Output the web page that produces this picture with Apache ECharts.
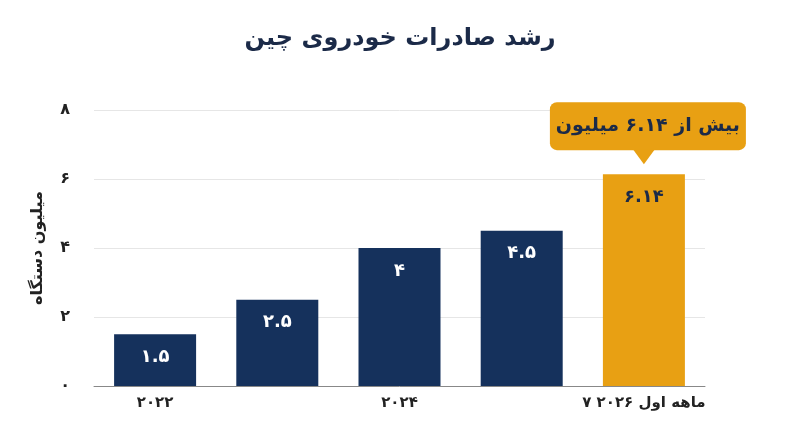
<!DOCTYPE html><html><head><meta charset="utf-8"><script src="https://cdn.jsdelivr.net/npm/echarts@6/dist/echarts.min.js"></script>
<style>body{margin:0}#c{width:800px;height:447px}</style></head><body><div id="c"></div><script>
const categories=['۲۰۲۲','۲۰۲۳','۲۰۲۴','۲۰۲۵','۷ ماهه اول ۲۰۲۶'];
const values=[1.5,2.5,4,4.5,6.14];
const valueLabels=['۱.۵','۲.۵','۴','۴.۵','۶.۱۴'];
const yTicks={0:'۰',2:'۲',4:'۴',6:'۶',8:'۸'};
const calloutText='بیش از ۶.۱۴ میلیون';
const F='DejaVu Sans';
const navy='#15315c',orange='#e8a013';
const ch=echarts.init(document.getElementById('c'));
ch.setOption({
 animation:false,
 title:{text:'رشد صادرات خودروی چین',left:'center',top:22,textStyle:{fontFamily:F,fontSize:24,fontWeight:'bold',color:'#1b2a48'}},
 grid:{left:94,right:95,top:110,bottom:61},
 xAxis:{type:'category',data:categories,axisTick:{show:false},axisLine:{lineStyle:{color:'#888'}},
  axisLabel:{fontFamily:F,fontSize:15,fontWeight:'bold',color:'#222',margin:10}},
 yAxis:{type:'value',min:0,max:8,interval:2,name:'میلیون دستگاه',nameLocation:'middle',nameGap:48,nameRotate:90,
  nameTextStyle:{fontFamily:F,fontSize:16,fontWeight:'bold',color:'#222'},
  splitLine:{lineStyle:{color:'#e6e6e6'}},
  axisLabel:{fontFamily:F,fontSize:16,fontWeight:'bold',color:'#222',margin:24,formatter:v=>yTicks[v]}},
 series:[{type:'bar',barWidth:82,
  data:values.map((v,i)=>({value:v,itemStyle:{color:i===4?orange:navy},
   label:{color:i===4?'#1b2a48':'#fff'}})),
  label:{show:true,position:'insideTop',distance:14,fontFamily:F,fontSize:18,fontWeight:'bold',formatter:p=>valueLabels[p.dataIndex]}}]
});
const p=ch.convertToPixel({seriesIndex:0},[4,values[4]]);
const w=196,h=48,tipY=p[1]-10,boxB=tipY-14;
ch.setOption({graphic:[
 {type:'rect',shape:{x:p[0]-w/2+4,y:boxB-h,width:w,height:h,r:7},style:{fill:orange}},
 {type:'polygon',shape:{points:[[p[0]-11,boxB-1],[p[0]+11,boxB-1],[p[0],tipY]]},style:{fill:orange}},
 {type:'text',x:p[0]+4,y:boxB-h/2,style:{text:calloutText,fontFamily:F,fontSize:19,fontWeight:'bold',fill:'#1b2a48',align:'center',verticalAlign:'middle'}}
]});
</script></body></html>
